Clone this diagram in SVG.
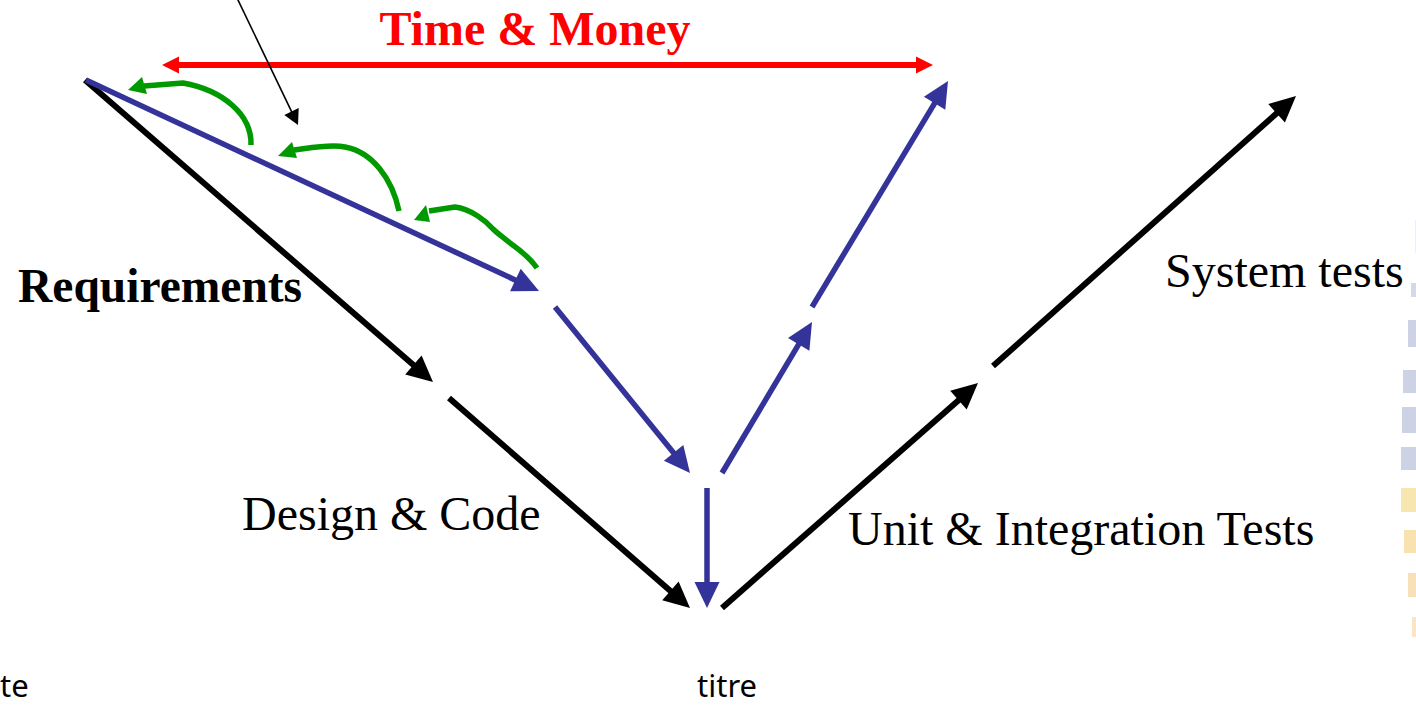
<svg xmlns="http://www.w3.org/2000/svg" width="1416" height="706" viewBox="0 0 1416 706">
<style>
  .serif { font-family: "Liberation Serif", "Times New Roman", serif; }
  .sans { font-family: "Noto Sans", "Open Sans", sans-serif; }
  .blk { stroke: #000; stroke-width: 6; fill: none; }
  .blu { stroke: #333399; stroke-width: 5.5; fill: none; }
  .grn { stroke: #009900; stroke-width: 5.5; fill: none; stroke-linecap: butt; stroke-linejoin: round; }
  .red { stroke: #ff0000; stroke-width: 6; fill: none; }
  .hb { fill: #000; }
  .hu { fill: #333399; }
  .hg { fill: #009900; }
  .hr { fill: #ff0000; }
</style>
<rect width="1416" height="706" fill="#ffffff"/>

<g id="decoration" opacity="0.7">
  <rect x="1415" y="220" width="1" height="33" fill="#e4e8f2"/>
  <rect x="1411" y="283" width="5" height="14" fill="#c4cade"/>
  <rect x="1408" y="320" width="8" height="27" fill="#b8bfda"/>
  <rect x="1403" y="370" width="13" height="23" fill="#b8bfda"/>
  <rect x="1402" y="407" width="14" height="26" fill="#b8bfda"/>
  <rect x="1401" y="447" width="15" height="23" fill="#b8bfda"/>
  <rect x="1401" y="488" width="15" height="24" fill="#f6dc90"/>
  <rect x="1404" y="530" width="12" height="23" fill="#f6d890"/>
  <rect x="1408" y="573" width="8" height="24" fill="#f6d49c"/>
  <rect x="1412" y="617" width="4" height="20" fill="#f8dcac"/>
</g>

<g id="connectors">
  <!-- black V -->
  <line class="blk" x1="85" y1="80" x2="414.9" y2="366.3"/>
  <polygon class="hb" points="433,382 405.2,374.4 421.6,355.6"/>
  <line class="blk" x1="449" y1="398" x2="671.9" y2="592.2"/>
  <polygon class="hb" points="690,608 662.2,600.3 678.6,581.5"/>
  <line class="blk" x1="722" y1="608" x2="960" y2="398.9"/>
  <polygon class="hb" points="978,383 966.7,409.6 950.2,390.8"/>
  <line class="blk" x1="993" y1="366" x2="1278.1" y2="112"/>
  <polygon class="hb" points="1296,96 1284.9,122.6 1268.3,104"/>

  <!-- blue V -->
  <line class="blu" x1="86" y1="80" x2="517.2" y2="280.9"/>
  <polygon class="hu" points="539,291 510.1,291.3 520.7,268.7"/>
  <line class="blu" x1="555" y1="307" x2="674.9" y2="454.4"/>
  <polygon class="hu" points="690,473 663.9,460.7 683.3,444.9"/>
  <line class="blu" x1="707" y1="488" x2="707" y2="584"/>
  <polygon class="hu" points="707,608 694.5,582 719.5,582"/>
  <line class="blu" x1="722" y1="473" x2="799.7" y2="342.6"/>
  <polygon class="hu" points="812,322 809.4,350.7 788,337.9"/>
  <line class="blu" x1="812" y1="307" x2="935.6" y2="101.6"/>
  <polygon class="hu" points="948,81 945.3,109.7 923.9,96.8"/>

  <!-- red double arrow -->
  <line class="red" x1="176" y1="65" x2="919" y2="65"/>
  <polygon class="hr" points="162,65 179,56.5 179,73.5"/>
  <polygon class="hr" points="933,65 916,56.5 916,73.5"/>

  <!-- thin pointer -->
  <line x1="235.6" y1="-5" x2="292.2" y2="112.9" stroke="#000" stroke-width="1.6"/>
  <polygon class="hb" points="298,125 284.3,115 298.7,108"/>

  <!-- green feedback arcs -->
  <path class="grn" d="M251,145 C252,114 222,90 183,83 L144,86"/>
  <polygon class="hg" points="128,90 142,77 147,94"/>
  <path class="grn" d="M399,211 C392,178 372,152 345,147 C330,144 310,148 294,150"/>
  <polygon class="hg" points="278,156 292,142 297,158"/>
  <path class="grn" d="M537,268 C530,258 520,250 510,243 C503,237 497,233 493,229 C486,221 471,209 455,207 L429,211"/>
  <polygon class="hg" points="414,220 426,205 430,222"/>
</g>

<g id="label-time-money">
  <text class="serif" x="535" y="45" font-size="48" font-weight="bold" fill="#ff0000" text-anchor="middle">Time &amp; Money</text>
</g>
<g id="label-requirements">
  <text class="serif" x="18" y="302" font-size="47.5" font-weight="bold" fill="#000">Requirements</text>
</g>
<g id="label-design">
  <text class="serif" x="242" y="530" font-size="48" fill="#000">Design &amp; Code</text>
</g>
<g id="label-unit">
  <text class="serif" x="848" y="545" font-size="48" fill="#000">Unit &amp; Integration Tests</text>
</g>
<g id="label-system">
  <text class="serif" x="1165" y="287" font-size="48" fill="#000">System tests</text>
</g>
<g id="footer">
  <text class="sans" x="697" y="697" font-size="31" fill="#000">titre</text>
  <text class="sans" x="0" y="697" font-size="31" fill="#000">te</text>
</g>
</svg>
